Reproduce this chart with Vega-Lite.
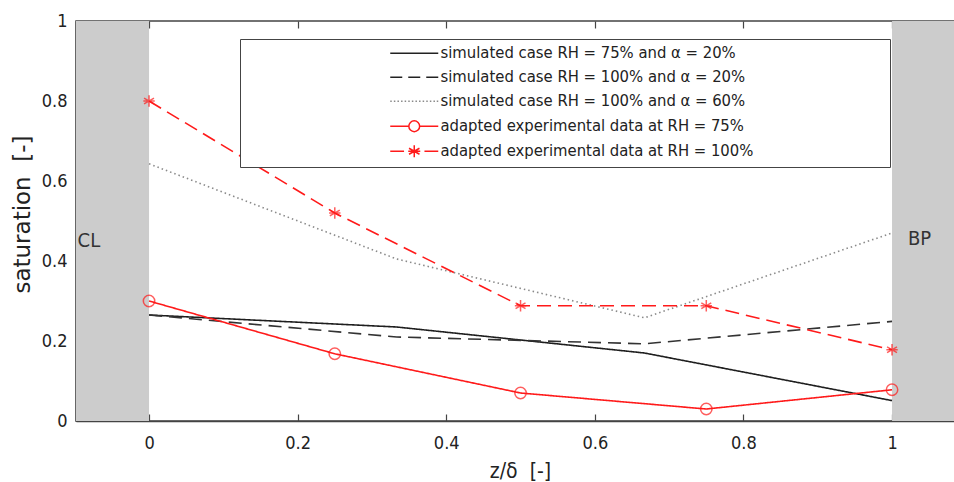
{
  "$schema": "https://vega.github.io/schema/vega-lite/v6.json",
  "width": 878,
  "height": 400,
  "autosize": {"type": "none"},
  "padding": {"left": 76, "top": 21, "right": 0, "bottom": 61},
  "background": "white",
  "config": {
    "font": "DejaVu Sans Condensed, DejaVu Sans",
    "view": {"stroke": "#444444", "strokeWidth": 1.5}
  },
  "datasets": {
    "sat": [
      {"series": "simulated case RH = 75% and α = 20%", "z": 0, "s": 0.265},
      {"series": "simulated case RH = 75% and α = 20%", "z": 0.3333, "s": 0.235},
      {"series": "simulated case RH = 75% and α = 20%", "z": 0.6667, "s": 0.17},
      {"series": "simulated case RH = 75% and α = 20%", "z": 1, "s": 0.051},
      {"series": "simulated case RH = 100% and α = 20%", "z": 0, "s": 0.265},
      {"series": "simulated case RH = 100% and α = 20%", "z": 0.3333, "s": 0.21},
      {"series": "simulated case RH = 100% and α = 20%", "z": 0.6667, "s": 0.193},
      {"series": "simulated case RH = 100% and α = 20%", "z": 1, "s": 0.249},
      {"series": "simulated case RH = 100% and α = 60%", "z": 0, "s": 0.643},
      {"series": "simulated case RH = 100% and α = 60%", "z": 0.3333, "s": 0.405},
      {"series": "simulated case RH = 100% and α = 60%", "z": 0.6667, "s": 0.258},
      {"series": "simulated case RH = 100% and α = 60%", "z": 1, "s": 0.47},
      {"series": "adapted experimental data at RH = 75%", "z": 0, "s": 0.3},
      {"series": "adapted experimental data at RH = 75%", "z": 0.25, "s": 0.168},
      {"series": "adapted experimental data at RH = 75%", "z": 0.5, "s": 0.07},
      {"series": "adapted experimental data at RH = 75%", "z": 0.75, "s": 0.03},
      {"series": "adapted experimental data at RH = 75%", "z": 1, "s": 0.078},
      {"series": "adapted experimental data at RH = 100%", "z": 0, "s": 0.8},
      {"series": "adapted experimental data at RH = 100%", "z": 0.25, "s": 0.52},
      {"series": "adapted experimental data at RH = 100%", "z": 0.5, "s": 0.288},
      {"series": "adapted experimental data at RH = 100%", "z": 0.75, "s": 0.288},
      {"series": "adapted experimental data at RH = 100%", "z": 1, "s": 0.178}
    ],
    "bands": [
      {"zone": "CL", "from": -0.1, "to": 0},
      {"zone": "BP", "from": 1, "to": 1.1}
    ],
    "labels": [
      {"label": "CL", "z": -0.081, "s": 0.451},
      {"label": "BP", "z": 1.037, "s": 0.455}
    ]
  },
  "layer": [
    {
      "data": {"name": "bands"},
      "mark": {"type": "rect", "color": "#cccccc", "clip": true},
      "encoding": {
        "x": {
          "field": "from", "type": "quantitative",
          "scale": {"domain": [-0.0983, 1.0834], "nice": false, "zero": false},
          "axis": {
            "orient": "bottom", "values": [0, 0.2, 0.4, 0.6, 0.8, 1], "format": "~g",
            "title": "z/δ\u00a0 [-]", "titleFontSize": 21, "titleFontWeight": "normal", "titleColor": "#222222",
            "titleBaseline": "alphabetic", "titleY": 56, "titleX": 444,
            "labelFontSize": 18, "labelColor": "#222222", "labelPadding": 20,
            "tickSize": -7, "tickColor": "#444444", "tickWidth": 1.2,
            "domainColor": "#444444", "domainWidth": 1.5, "grid": false
          }
        },
        "x2": {"field": "to"},
        "y": {
          "datum": 0, "type": "quantitative",
          "scale": {"domain": [0, 1], "nice": false},
          "axis": {
            "values": [0, 0.2, 0.4, 0.6, 0.8, 1], "format": "~g",
            "title": "saturation\u00a0 [-]", "titleFont": "DejaVu Sans", "titleFontSize": 23, "titleFontWeight": "normal", "titleColor": "#222222",
            "titleBaseline": "alphabetic", "titleX": -47, "titleY": 193, "titleLimit": 400,
            "labelFontSize": 18, "labelColor": "#222222", "labelPadding": 14,
            "tickSize": -5, "tickColor": "#444444",
            "domainColor": "#444444", "domainWidth": 1.5, "grid": false
          }
        },
        "y2": {"datum": 1}
      }
    },
    {
      "data": {"name": "labels"},
      "mark": {"type": "text", "fontSize": 20, "color": "#333333"},
      "encoding": {
        "x": {
          "field": "z", "type": "quantitative",
          "axis": {"orient": "top", "values": [0, 0.2, 0.4, 0.6, 0.8, 1], "labels": false, "title": null,
                   "domain": false, "tickSize": -7, "tickColor": "#444444", "tickWidth": 1.2, "grid": false}
        },
        "y": {"field": "s", "type": "quantitative"},
        "text": {"field": "label"}
      }
    },
    {
      "data": {"name": "sat"},
      "mark": {"type": "line", "strokeWidth": 1.6},
      "encoding": {
        "x": {"field": "z", "type": "quantitative", "axis": null},
        "y": {"field": "s", "type": "quantitative"},
        "detail": {"field": "series"},
        "color": {
          "field": "series", "type": "nominal", "legend": null,
          "scale": {
            "domain": ["simulated case RH = 75% and α = 20%", "simulated case RH = 100% and α = 20%", "simulated case RH = 100% and α = 60%", "adapted experimental data at RH = 75%", "adapted experimental data at RH = 100%"],
            "range": ["#1e1e1e", "#333333", "#8a8a8a", "#ff1a1a", "#ff1a1a"]
          }
        },
        "strokeDash": {
          "field": "series", "type": "nominal", "legend": null,
          "scale": {
            "domain": ["simulated case RH = 75% and α = 20%", "simulated case RH = 100% and α = 20%", "simulated case RH = 100% and α = 60%", "adapted experimental data at RH = 75%", "adapted experimental data at RH = 100%"],
            "range": [[1, 0], [13, 7], [1.5, 3], [1, 0], [14, 7]]
          }
        }
      }
    },
    {
      "data": {"name": "sat"},
      "transform": [{"filter": "indexof(datum.series, 'adapted') >= 0"}],
      "mark": {"type": "point", "filled": false, "size": 130, "strokeWidth": 1.5, "color": "#ff1a1a"},
      "encoding": {
        "x": {"field": "z", "type": "quantitative", "axis": null},
        "y": {"field": "s", "type": "quantitative"},
        "shape": {
          "field": "series", "type": "nominal", "legend": null,
          "scale": {
            "domain": ["adapted experimental data at RH = 75%", "adapted experimental data at RH = 100%"],
            "range": ["circle", "M0,-1V1M-0.87,-0.5L0.87,0.5M-0.87,0.5L0.87,-0.5M-1,0H1"]
          }
        }
      }
    },
    {
      "data": {"name": "sat"},
      "mark": {"type": "point", "opacity": 0, "size": 144, "filled": false},
      "encoding": {
        "x": {"field": "z", "type": "quantitative", "axis": null},
        "y": {"field": "s", "type": "quantitative"},
        "shape": {
          "field": "series", "type": "nominal",
          "scale": {
            "domain": ["simulated case RH = 75% and α = 20%", "simulated case RH = 100% and α = 20%", "simulated case RH = 100% and α = 60%", "adapted experimental data at RH = 75%", "adapted experimental data at RH = 100%"],
            "range": [
              "M-4,0H4",
              "M-4,0H-2M-1,0H1M2,0H4",
              "M-4,0h0.25M-3.4,0h0.25M-2.8,0h0.25M-2.2,0h0.25M-1.6,0h0.25M-1,0h0.25M-0.4,0h0.25M0.2,0h0.25M0.8,0h0.25M1.4,0h0.25M2,0h0.25M2.6,0h0.25M3.2,0h0.25M3.75,0h0.25",
              "M-4,0H-0.9M0.9,0H4M0.9,0A0.9,0.9 0 1,1 -0.9,0A0.9,0.9 0 1,1 0.9,0",
              "M-4,0H-1.7M1.7,0H4M0,-1V1M-0.87,-0.5L0.87,0.5M-0.87,0.5L0.87,-0.5M-1,0H1"
            ]
          },
          "legend": {
            "orient": "none", "legendX": 164, "legendY": 18,
            "title": " ", "titleOrient": "right", "titlePadding": 131,
            "strokeColor": "#444444", "fillColor": "white", "padding": 6,
            "symbolOffset": 160, "labelOffset": 18, "rowPadding": 7,
            "labelFontSize": 16.5, "labelColor": "#222222", "labelLimit": 0,
            "symbolSize": 144, "symbolStrokeWidth": 1.5, "symbolOpacity": 1,
            "symbolFillColor": "transparent",
            "symbolStrokeColor": {"expr": "indexof(datum.value, 'adapted') >= 0 ? '#ff1a1a' : (indexof(datum.value, '60%') >= 0 ? '#8a8a8a' : '#222222')"}
          }
        }
      }
    }
  ],
  "resolve": {"scale": {"shape": "independent"}, "axis": {"x": "independent"}}
}
